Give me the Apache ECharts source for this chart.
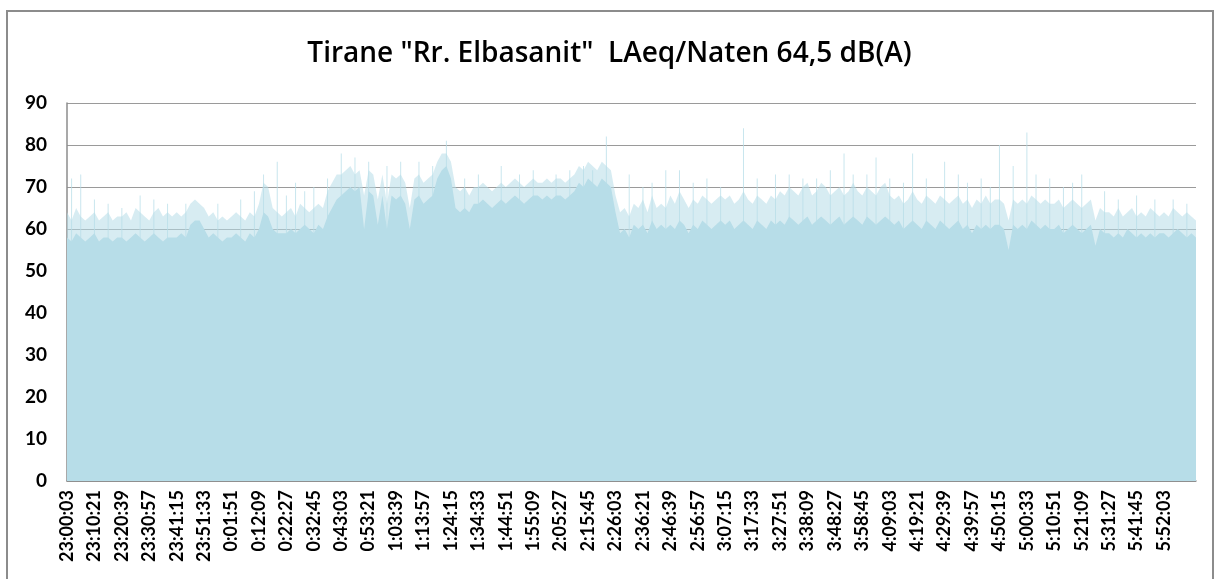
<!DOCTYPE html>
<html>
<head>
<meta charset="utf-8">
<script src="https://cdn.jsdelivr.net/npm/echarts@6/dist/echarts.min.js"></script>
<style>
  html, body { margin: 0; padding: 0; background: #fff; }
  #chart { width: 1219px; height: 579px; }
</style>
</head>
<body>
<div id="chart"></div>
<script>
// one sample every 103 s, 6 samples between two tick labels
var tickLabels = ['23:00:03', '23:10:21', '23:20:39', '23:30:57', '23:41:15', '23:51:33',
    '0:01:51', '0:12:09', '0:22:27', '0:32:45', '0:43:03', '0:53:21', '1:03:39', '1:13:57',
    '1:24:15', '1:34:33', '1:44:51', '1:55:09', '2:05:27', '2:15:45', '2:26:03', '2:36:21',
    '2:46:39', '2:56:57', '3:07:15', '3:17:33', '3:27:51', '3:38:09', '3:48:27', '3:58:45',
    '4:09:03', '4:19:21', '4:29:39', '4:39:57', '4:50:15', '5:00:33', '5:10:51', '5:21:09',
    '5:31:27', '5:41:45', '5:52:03'];
var perTick = 6;

// dense part of the noise level (dB)
var bodyLevel = [
    58, 57, 59, 58, 57, 58, 59, 57, 58, 58, 57, 58,
    58, 57, 58, 59, 58, 57, 58, 59, 58, 57, 58, 58,
    58, 59, 58, 61, 62, 62, 60, 58, 59, 58, 57, 58,
    58, 59, 58, 57, 59, 58, 60, 64, 63, 60, 59, 59,
    59, 60, 59, 60, 61, 60, 59, 61, 60, 63, 65, 67,
    68, 69, 70, 69, 70, 60, 69, 68, 61, 68, 60, 68,
    67, 68, 66, 60, 67, 68, 66, 67, 68, 72, 74, 75,
    72, 65, 64, 65, 64, 66, 66, 67, 66, 65, 66, 67,
    66, 67, 68, 67, 66, 67, 68, 68, 67, 68, 67, 68,
    68, 67, 68, 69, 71, 70, 72, 71, 70, 72, 71, 70,
    64, 59, 60, 58, 61, 60, 61, 59, 62, 60, 61, 60,
    61, 60, 62, 61, 59, 61, 60, 62, 61, 60, 61, 62,
    61, 62, 60, 61, 62, 61, 60, 62, 61, 60, 62, 61,
    62, 61, 63, 62, 61, 62, 63, 61, 62, 63, 62, 61,
    62, 63, 61, 62, 63, 62, 61, 63, 62, 61, 62, 63,
    62, 61, 62, 60, 61, 62, 61, 60, 62, 61, 60, 62,
    61, 60, 61, 62, 60, 61, 59, 61, 60, 61, 60, 61,
    61, 60, 55, 61, 60, 61, 60, 62, 61, 60, 61, 60,
    60, 61, 59, 60, 61, 60, 59, 60, 61, 56, 60, 59,
    59, 58, 59, 58, 60, 59, 58, 59, 58, 59, 58, 59,
    59, 58, 59, 60, 59, 58, 59, 58
];

// light fringe above the dense part
var fringeLevel = [
    64, 62, 65, 63, 62, 63, 64, 62, 63, 64, 62, 63,
    63, 64, 62, 65, 64, 63, 62, 64, 65, 63, 64, 63,
    64, 63, 64, 66, 67, 66, 65, 63, 64, 62, 63, 62,
    63, 64, 63, 62, 64, 63, 66, 71, 70, 65, 64, 63,
    64, 65, 63, 66, 65, 64, 65, 66, 65, 69, 71, 73,
    73, 74, 75, 73, 74, 68, 74, 73, 67, 73, 66, 73,
    72, 73, 71, 65, 72, 73, 71, 72, 73, 76, 78, 78,
    76, 70, 69, 70, 68, 70, 70, 71, 70, 69, 70, 71,
    70, 71, 72, 71, 70, 71, 72, 71, 71, 72, 71, 72,
    72, 71, 72, 73, 75, 74, 76, 75, 74, 76, 75, 74,
    68, 64, 65, 63, 66, 65, 67, 64, 68, 65, 66, 65,
    68, 66, 69, 67, 65, 67, 66, 68, 67, 66, 67, 68,
    67, 68, 66, 67, 69, 67, 66, 68, 67, 66, 68, 67,
    69, 68, 70, 69, 68, 70, 71, 68, 69, 71, 70, 68,
    69, 70, 68, 69, 71, 69, 68, 70, 69, 68, 70, 71,
    68, 67, 68, 66, 67, 69, 67, 66, 68, 67, 66, 68,
    67, 66, 67, 68, 66, 67, 65, 67, 66, 68, 66, 67,
    67, 66, 62, 67, 66, 67, 66, 68, 67, 66, 67, 66,
    66, 67, 65, 66, 67, 66, 65, 66, 67, 62, 65, 64,
    64, 63, 65, 63, 64, 65, 63, 64, 63, 65, 64, 63,
    64, 63, 65, 64, 63, 64, 63, 62
];

// single short peaks: [sample index, dB]
var peaks = [
    [1, 72], [3, 73], [6, 67], [9, 66], [12, 65], [16, 68], [19, 67], [22, 66],
    [26, 66], [33, 66], [38, 67], [41, 69], [43, 73], [46, 76], [48, 68], [50, 71],
    [52, 69], [54, 70], [57, 72], [60, 78], [63, 77], [66, 76], [70, 75], [73, 76],
    [77, 76], [80, 75], [83, 81], [87, 72], [90, 73], [95, 75], [99, 73], [102, 74],
    [107, 73], [110, 74], [113, 75], [115, 74], [118, 82], [123, 73], [126, 70],
    [128, 71], [131, 74], [134, 74], [137, 71], [140, 72], [143, 70], [148, 84],
    [151, 72], [155, 73], [158, 73], [161, 72], [164, 72], [167, 74], [170, 78],
    [172, 73], [175, 73], [177, 77], [180, 72], [183, 71], [185, 78], [188, 72],
    [192, 76], [195, 73], [197, 71], [200, 72], [202, 70], [204, 80], [207, 75],
    [210, 83], [212, 73], [215, 72], [218, 70], [220, 71], [222, 73], [227, 69],
    [230, 67], [234, 68], [238, 67], [242, 67], [245, 66]
];

var categories = bodyLevel.map(function (v, i) { return String(i); });
var peakData = bodyLevel.map(function () { return '-'; });
peaks.forEach(function (p) { peakData[p[0]] = p[1]; });

var fillColor = '#b7dde8';
var labelFont = 'Lato, "Open Sans", sans-serif';

var myChart = echarts.init(document.getElementById('chart'));
var option = {
    animation: false,
    backgroundColor: '#fff',
    title: {
        text: 'Tirane "Rr. Elbasanit"  LAeq/Naten 64,5 dB(A)',
        left: 'center',
        top: 35,
        textStyle: { fontFamily: '"Open Sans", sans-serif', fontSize: 28, fontWeight: 600, color: '#000' }
    },
    graphic: [{
        type: 'rect',
        shape: { x: 7, y: 11, width: 1206, height: 620 },
        style: { fill: 'none', stroke: '#8c8c8c', lineWidth: 2 },
        silent: true
    }],
    grid: { left: 67, right: 23, top: 103, bottom: 98 },
    xAxis: {
        type: 'category',
        data: categories,
        boundaryGap: false,
        axisLine: { lineStyle: { color: '#8c8c8c', width: 1.5 } },
        axisTick: { show: false },
        axisLabel: {
            rotate: 90,
            margin: 9,
            interval: function (idx) { return idx % perTick === 0; },
            formatter: function (v, idx) {
                return idx % perTick === 0 ? (tickLabels[idx / perTick] || '') : '';
            },
            fontFamily: labelFont,
            fontWeight: 'bold',
            fontSize: 18,
            color: '#000'
        },
        splitLine: { show: false }
    },
    yAxis: {
        type: 'value',
        min: 0,
        max: 90,
        interval: 10,
        axisLine: { show: true, lineStyle: { color: '#8c8c8c', width: 1.5 } },
        axisTick: { show: false },
        axisLabel: {
            margin: 20,
            fontFamily: labelFont,
            fontWeight: 'bold',
            fontSize: 19,
            color: '#000'
        },
        splitLine: { lineStyle: { color: '#9a9a9a', width: 1.2 } }
    },
    series: [
        {
            name: 'peaks',
            type: 'bar',
            data: peakData,
            barWidth: 1,
            itemStyle: { color: 'rgba(183,221,232,0.75)' }
        },
        {
            name: 'fringe',
            type: 'line',
            data: fringeLevel,
            symbol: 'none',
            lineStyle: { width: 0 },
            areaStyle: { color: 'rgba(183,221,232,0.55)', opacity: 1 }
        },
        {
            name: 'LAeq',
            type: 'line',
            data: bodyLevel,
            symbol: 'none',
            lineStyle: { width: 0 },
            areaStyle: { color: fillColor, opacity: 1 }
        }
    ]
};
myChart.setOption(option);
</script>
</body>
</html>
